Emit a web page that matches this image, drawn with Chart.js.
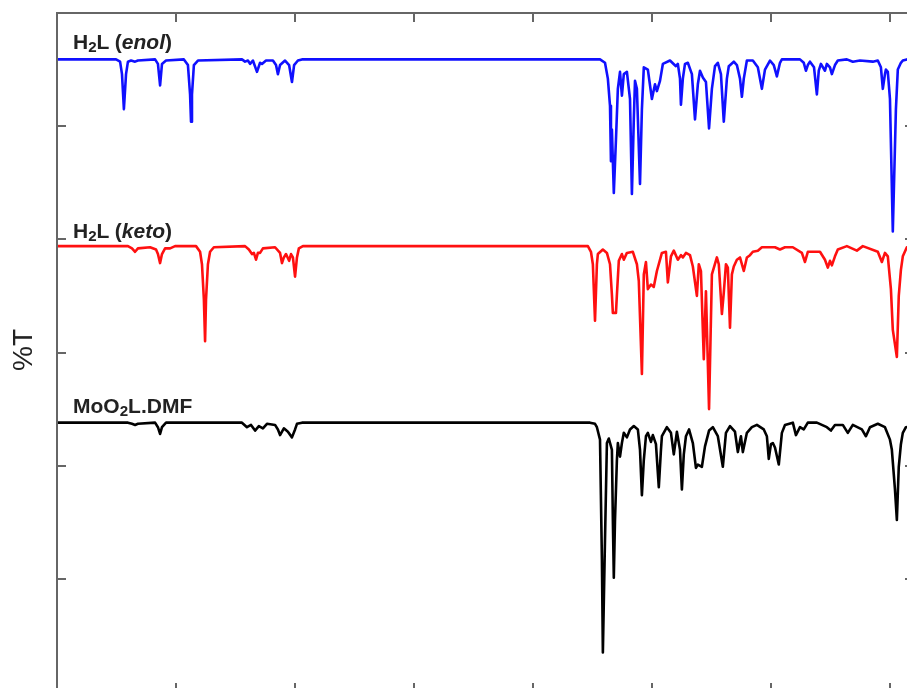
<!DOCTYPE html>
<html>
<head>
<meta charset="utf-8">
<script src="https://cdn.jsdelivr.net/npm/chart.js@4.4.1/dist/chart.umd.min.js"></script>
<style>
  html, body { margin: 0; padding: 0; background: #fff; overflow: hidden; }
  #wrap { position: absolute; left: 0; top: 0; width: 920px; height: 700px; }
  .lbl { position: absolute; left: 73px; font: bold 21px "Liberation Sans", Arial, sans-serif; color: #222; line-height: 21px; white-space: nowrap; }
  .lbl .sub { position: relative; top: 0.22em; font-size: 0.72em; line-height: 0; }
  #ytitle { position: absolute; left: 23px; top: 350px; transform: translate(-50%, -50%) rotate(-90deg); font: 28px "Liberation Sans", Arial, sans-serif; color: #222; white-space: nowrap; }
</style>
</head>
<body>
<div id="wrap">
  <canvas id="ir" width="920" height="700"></canvas>
  <div class="lbl" style="top:31px">H<span class="sub">2</span>L (<i>enol</i>)</div>
  <div class="lbl" style="top:220px">H<span class="sub">2</span>L (<i>keto</i>)</div>
  <div class="lbl" style="top:395px">MoO<span class="sub">2</span>L.DMF</div>
  <div id="ytitle">%T</div>
</div>
<script>
// wavenumber (cm-1) and stacked %T
const enolWn = [4000,3752,3735,3727,3719,3710,3702,3689,3672,3660,3588,3576,3567,3559,3542,3467,3450,3441,3437,3433,3425,3408,3223,3210,3198,3189,3177,3160,3147,3139,3122,3093,3080,3072,3063,3042,3025,3013,3004,2988,2971,
  1719,1698,1686,1677,1673,1669,1661,1652,1644,1635,1627,1619,1606,1593,1585,1577,1572,1564,1551,1543,1535,1518,1501,1488,1480,1467,1455,1425,1400,1392,1383,1379,1371,1362,1350,1333,1320,1308,1299,1287,1274,1261,1249,1236,1224,1211,1199,1186,1178,1157,1144,1131,1123,1115,1102,1077,1056,1039,1026,1005,989,976,963,955,879,863,854,846,837,820,808,800,791,774,766,753,745,732,720,682,657,627,573,552,539,531,522,518,510,501,489,476,468,455,447,430,405];
const enolT = [55.9,55.9,55.7,54.6,51.5,54.6,55.7,55.8,55.7,55.8,55.9,55.5,53.6,55.5,55.8,55.9,55.4,52.8,50.4,52.8,55.4,55.8,55.9,55.7,55.8,55.5,55.8,54.8,55.6,55.5,55.8,55.8,55.4,54.6,55.4,55.8,55.4,53.9,55.4,55.8,55.9,
  55.9,55.6,54.2,51.8,46.9,49.7,44.1,48.8,53.3,54.8,
  52.7,54.6,54.8,52.4,44.0,50.6,54.0,53.3,44.9,51.5,
  55.2,55.0,52.4,53.7,53.1,54.0,55.5,55.8,55.3,55.5,
  54.2,51.9,54.2,55.5,55.6,54.6,50.6,53.7,54.9,54.3,
  53.9,49.8,53.3,55.3,55.6,54.6,50.4,54.2,55.3,55.7,
  55.4,54.2,52.6,54.2,55.8,55.8,55.2,53.3,55.0,55.8,
  55.4,54.4,55.6,55.9,55.9,55.6,54.9,55.4,55.7,55.2,
  52.8,54.9,55.5,54.9,55.5,55.2,54.6,55.4,55.8,55.9,
  55.7,55.8,55.7,55.8,55.2,53.3,54.6,55.0,54.8,52.4,
  40.7,51.5,55.0,55.6,55.8,55.9,55.9];

const ketoWn = [4000,3702,3685,3672,3660,3609,3584,3576,3567,3559,3546,3525,3504,3416,3399,3391,3383,3378,3374,3366,3357,3341,3210,3194,3181,3173,3164,3156,3147,3135,3084,3063,3055,3047,3038,3025,3017,3009,3000,2992,2984,2967,
  1770,1757,1749,1740,1732,1728,1707,1690,1677,1669,
  1665,1652,1648,1640,1627,1619,1606,1581,1564,1556,
  1543,1535,1526,1518,1505,1493,1480,1459,1442,1434,
  1421,1409,1392,1379,1371,1358,1341,1329,1312,1304,
  1295,1283,1274,1261,1249,1228,1220,1207,1199,1190,
  1182,1173,1165,1157,1144,1131,1115,1102,1089,1077,
  1056,1039,984,963,942,909,871,858,846,795,
  774,762,753,745,732,720,682,640,615,552,
  535,522,510,497,489,472,464,455,447,430,405];
const ketoT = [39.4,39.4,39.2,38.9,39.2,39.3,39.1,38.7,37.9,38.7,39.2,39.2,39.4,39.4,38.9,37.8,34.7,31.0,34.7,37.8,38.9,39.3,39.4,39.1,38.7,38.8,38.2,38.8,38.8,39.2,39.3,38.8,37.9,38.4,38.7,38.1,38.7,38.4,36.7,38.4,39.2,39.4,
  39.4,38.9,37.8,32.8,37.8,38.7,39.1,38.8,37.8,35.1,
  33.5,33.5,35.1,38.1,38.7,38.2,38.8,38.9,37.8,36.3,
  28.1,36.9,38.0,35.6,36.0,35.8,37.2,38.8,38.9,36.2,
  38.5,39.0,38.2,38.6,38.4,38.8,38.6,37.6,35.0,37.8,
  37.2,29.4,35.4,25.0,36.9,38.4,37.8,33.4,35.3,37.8,
  37.5,32.2,36.9,37.6,38.2,38.4,37.2,38.4,38.6,38.9,
  39.0,39.3,39.3,39.1,39.3,39.3,38.8,38.0,38.9,38.9,
  38.2,37.5,38.1,37.7,38.5,39.1,39.4,39.0,39.4,38.9,
  38.0,38.8,38.5,35.6,32.0,29.6,35.0,37.3,38.5,39.3,39.4];

const moWn = [4000,3702,3685,3672,3660,3588,3576,3567,3559,3542,3223,3202,3185,3168,3152,3135,3118,3084,3072,3063,3047,3030,3013,3000,2992,2971,
  1761,1740,1732,1719,1711,1707,1698,1690,1682,1669,
  1665,1661,1656,1648,1644,1635,1627,1619,1606,1593,
  1577,1560,1551,1543,1535,1526,1518,1505,1497,1484,
  1472,1463,1459,1438,1421,1409,1396,1383,1375,1367,
  1358,1345,1329,1316,1308,1291,1278,1261,1245,1224,
  1203,1190,1173,1152,1140,1127,1119,1102,1081,1060,
  1031,1018,1010,1001,993,984,968,955,942,909,
  896,879,863,846,808,766,749,732,699,678,
  657,619,602,585,552,522,501,493,480,472,
  464,455,447,434,405];
const moT = [23.8,23.8,23.7,23.6,23.7,23.8,23.4,22.8,23.4,23.8,23.8,23.4,23.6,23.1,23.5,23.3,23.7,23.6,23.2,22.7,23.3,23.0,22.5,23.2,23.7,23.8,
  23.8,23.7,23.4,22.3,11.7,3.5,13.5,22.0,22.4,21.4,
  15.2,10.1,15.2,20.5,22.0,20.8,22.0,22.9,22.5,23.2,
  23.5,23.2,21.4,17.4,20.5,22.6,22.9,22.1,22.7,21.9,
  18.1,21.4,22.6,23.4,22.9,21.0,23.0,21.4,17.9,21.0,
  22.6,23.2,22.0,19.8,20.1,19.9,21.7,23.1,23.4,22.6,
  19.9,22.9,23.5,23.0,21.2,22.6,21.2,22.9,23.4,23.6,
  23.2,22.6,20.6,21.9,22.0,21.6,20.1,22.9,23.6,23.8,
  22.7,23.4,23.2,23.8,23.8,23.4,23.1,23.6,23.6,22.9,
  23.6,23.2,22.6,23.4,23.7,23.4,22.3,21.4,17.9,15.2,
  19.9,21.9,22.9,23.4,23.5];

const xTicks = [3500, 3000, 2500, 2000, 1500, 1000, 500];
const yTicks = [10, 20, 30, 40, 50];

function pts(wn, t) {
  return wn.map((x, i) => ({ x: x, y: t[i] }));
}

// box frame with inward ticks on all four sides
const frame = {
  id: "frame",
  afterDraw(chart) {
    const { ctx, chartArea: a, scales } = chart;
    const len = 9;
    ctx.save();
    ctx.strokeStyle = "#666";
    ctx.lineWidth = 2;
    ctx.strokeRect(a.left, a.top, a.right - a.left, a.bottom - a.top);
    ctx.beginPath();
    xTicks.forEach((v) => {
      const px = Math.round(scales.x.getPixelForValue(v));
      ctx.moveTo(px, a.bottom); ctx.lineTo(px, a.bottom - len);
      ctx.moveTo(px, a.top); ctx.lineTo(px, a.top + len);
    });
    yTicks.forEach((v) => {
      const py = Math.round(scales.y.getPixelForValue(v));
      ctx.moveTo(a.left, py); ctx.lineTo(a.left + len, py);
      ctx.moveTo(a.right, py); ctx.lineTo(a.right - len, py);
    });
    ctx.stroke();
    ctx.restore();
  },
};

new Chart(document.getElementById("ir"), {
  type: "line",
  data: {
    datasets: [
      { label: "H2L (enol)", data: pts(enolWn, enolT), borderColor: "#1010ff" },
      { label: "H2L (keto)", data: pts(ketoWn, ketoT), borderColor: "#ff1010" },
      { label: "MoO2L.DMF", data: pts(moWn, moT), borderColor: "#000000" },
    ],
  },
  options: {
    responsive: false,
    devicePixelRatio: 1,
    animation: false,
    layout: { padding: { left: 57, top: 13, right: 6, bottom: 8 } },
    elements: {
      point: { radius: 0 },
      line: { borderWidth: 2.6, tension: 0, borderJoinStyle: "round", borderCapStyle: "round" },
    },
    scales: {
      x: { type: "linear", reverse: true, min: 400, max: 4000, display: false },
      y: { min: 0, max: 60, display: false },
    },
    plugins: { legend: { display: false }, tooltip: { enabled: false } },
  },
  plugins: [frame],
});
</script>
</body>
</html>
